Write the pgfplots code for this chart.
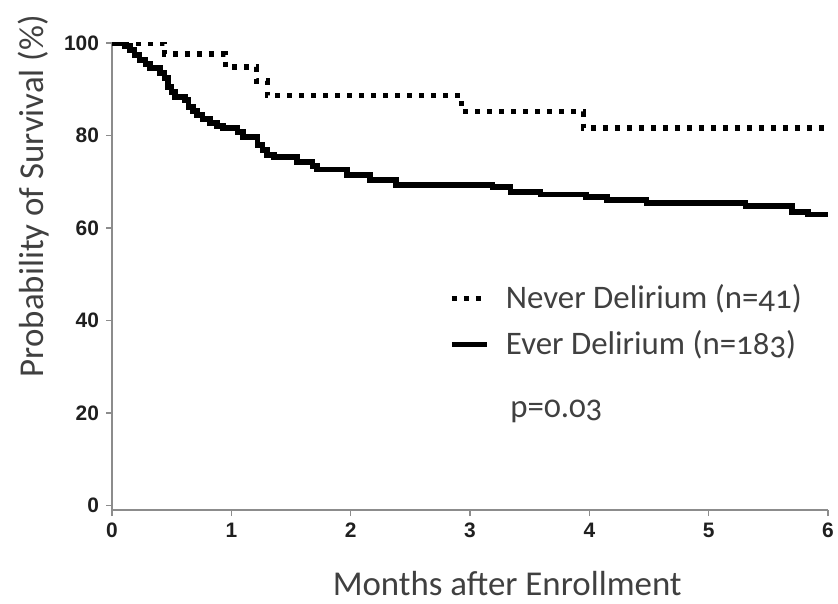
\documentclass[border=0pt]{standalone}
\usepackage{fontspec}
\setmainfont{Carlito}
\newfontfamily\lblfont[Numbers=OldStyle]{Carlito}
\newfontfamily\tickfont{Liberation Sans}
\usepackage{pgfplots}
\pgfplotsset{compat=1.18}
\usetikzlibrary{calc}
\definecolor{axgray}{RGB}{140,140,140}
\definecolor{txtgray}{RGB}{64,64,64}
\begin{document}
\begin{tikzpicture}
\begin{axis}[
  scale only axis, width=358bp, height=233.5bp,
  xmin=0, xmax=6, ymin=-1, ymax=100,
  axis x line*=bottom, axis y line*=left,
  xtick={0,1,2,3,4,5,6}, ytick={0,20,40,60,80,100},
  tick align=outside, major tick length=3bp,
  tick style={color=axgray, line width=0.8bp},
  axis line style={color=axgray, line width=0.9bp},
  tick label style={font=\tickfont\bfseries\fontsize{10.5}{12}\selectfont, color=black!88},
  /pgf/number format/assume math mode=true,
  xlabel={Months after Enrollment},
  ylabel={Probability of Survival (\%)},
  label style={font=\lblfont\fontsize{17.5}{20}\selectfont, color=txtgray},
  xlabel style={at={(axis description cs:0.552,0)}, anchor=base, yshift=-42.5bp},
  ylabel style={at={(axis description cs:0,0.672)}, anchor=base, yshift=34bp},
  legend style={draw=none, fill=none, at={(0.462,0.50)}, anchor=north west,
    font=\lblfont\fontsize{16.5}{19}\selectfont, text=txtgray, row sep=5.5bp},
  legend cell align=left,
  legend image code/.code={\draw[#1] (0bp,0bp) -- (17.5bp,0bp); \path[draw=none] (0bp,0bp) -- (25bp,0bp);},
]
\addplot[const plot, black, line width=2.6bp, line cap=butt, dash pattern=on 2.5bp off 3.5bp] coordinates {
(0,100) (0.44,97.6) (0.95,94.8) (1.21,91.8) (1.30,88.6) (2.93,85.1) (3.95,81.6) (6,81.6)};
\addlegendentry{Never Delirium (n=41)}
\addplot[const plot, black, line width=2.8bp] coordinates {
(0,100) (0.11,99.3) (0.15,98.5) (0.19,97.4) (0.23,96.3) (0.28,95.4) (0.32,94.6)
(0.40,93.5) (0.44,92.4) (0.47,90.5) (0.50,89.4) (0.53,88.3) (0.61,87.7) (0.64,86.2)
(0.68,85.3) (0.71,84.4) (0.76,83.5) (0.82,82.7) (0.88,82.1) (0.93,81.6) (1.05,80.8)
(1.10,79.7) (1.22,78.0) (1.26,76.9) (1.30,75.8) (1.36,75.4) (1.55,74.3) (1.68,73.4)
(1.72,72.6) (1.97,71.5) (2.16,70.4) (2.38,69.3) (3.19,68.9) (3.34,67.8) (3.59,67.2)
(3.97,66.7) (4.15,66.1) (4.48,65.4) (5.31,64.8) (5.70,63.5) (5.83,62.9) (6.00,62.9)};
\addlegendentry{Ever Delirium (n=183)}
\node[anchor=west, font=\lblfont\fontsize{16.5}{19}\selectfont, text=txtgray] at (axis cs:3.28,20.3) {p=0.03};
\coordinate (bl) at (rel axis cs:0,0);
\coordinate (tr) at (rel axis cs:1,1);
\end{axis}
\pgfresetboundingbox
\path ($(bl)+(-56bp,-46.5bp)$) rectangle ($(tr)+(5bp,21.5bp)$);
\end{tikzpicture}
\end{document}
